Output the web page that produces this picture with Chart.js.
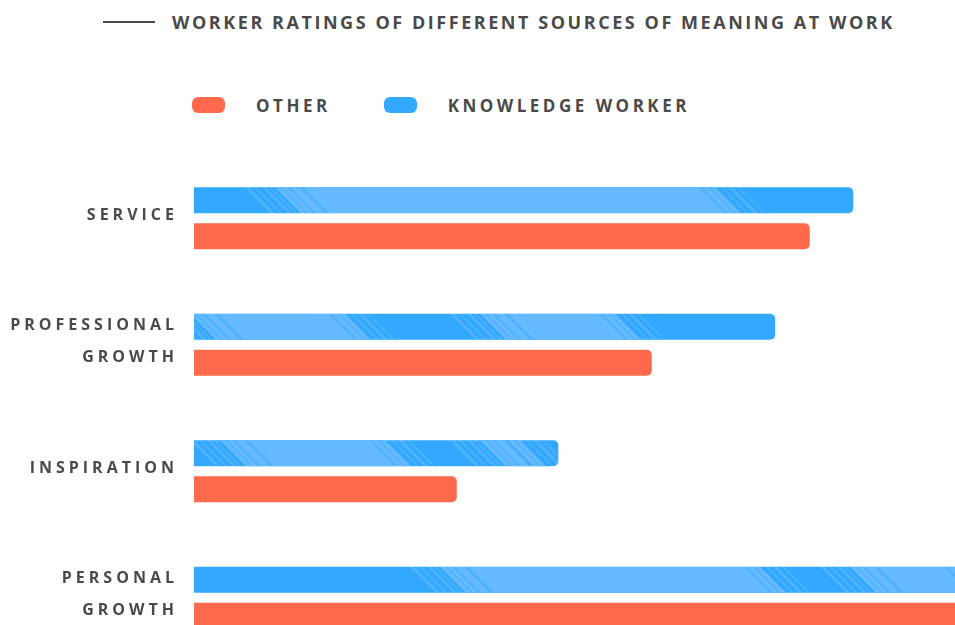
<!DOCTYPE html>
<html>
<head>
<meta charset="utf-8">
<script src="https://cdn.jsdelivr.net/npm/chart.js@4/dist/chart.umd.min.js"></script>
<style>
  html, body { margin: 0; padding: 0; background: #fff; width: 955px; height: 625px; overflow: hidden; }
  body { position: relative; font-family: 'Open Sans', sans-serif; font-weight: 700; color: #4a4a4a; }
  .title { position: absolute; left: 103px; top: 10px; height: 24px; display: flex; align-items: center; }
  .title .rule { width: 52px; height: 2px; background: #4a4a4a; margin-right: 17px; }
  .title span { font-size: 18px; letter-spacing: 2.55px; white-space: nowrap; }
  .legend { position: absolute; left: 192px; top: 93px; height: 24px; display: flex; align-items: center; }
  .legend .item { display: flex; align-items: center; margin-right: 53px; }
  .legend .swatch { width: 33px; height: 16px; border-radius: 6px; margin-right: 31px; }
  .legend span { font-size: 17px; letter-spacing: 3.5px; white-space: nowrap; }
  #wrap { position: absolute; left: 0; top: 155px; width: 1000px; height: 506px; }
</style>
</head>
<body>
<div class="title"><div class="rule"></div><span>WORKER RATINGS OF DIFFERENT SOURCES OF MEANING AT WORK</span></div>
<div class="legend" id="legend"></div>
<div id="wrap"><canvas id="chart"></canvas></div>
<script>
// 数据
const categories = ['SERVICE', ['PROFESSIONAL', 'GROWTH'], 'INSPIRATION', ['PERSONAL', 'GROWTH']]
const knowledgeWorker = [81.8, 72.1, 45.2, 98]
const other = [76.4, 56.8, 32.6, 97]
const seriesNames = ['OTHER', 'KNOWLEDGE WORKER']

const BLUE = '#33a8ff'
const BLUE_LIGHT = '#66baff'
const ORANGE = '#ff6a4c'

// 每根蓝条上的浅色笔刷带（相对条起点的像素偏移，仅为样式）
const brushBands = [
  [[81, 521]],
  [[-4, 151], [286, 421]],
  [[26, 191], [286, 326]],
  [[246, 566], [656, 766]]
]

function slant(ctx, x0, x1, top, h) {
  ctx.beginPath()
  ctx.moveTo(x0, top)
  ctx.lineTo(x1, top)
  ctx.lineTo(x1 + h, top + h)
  ctx.lineTo(x0 + h, top + h)
  ctx.closePath()
  ctx.fill()
}

const brushTexture = {
  id: 'brushTexture',
  afterDatasetDraw(chart, args) {
    if (args.index !== 0) return
    const ctx = chart.ctx
    args.meta.data.forEach((bar, i) => {
      const { x, y, base, height } = bar.getProps(['x', 'y', 'base', 'height'], true)
      const top = y - height / 2
      ctx.save()
      ctx.beginPath()
      ctx.roundRect(base, top, x - base, height, [0, 5, 5, 0])
      ctx.clip()
      ;(brushBands[i] || []).forEach(([a, b]) => {
        const x0 = base + a
        const x1 = base + b
        ctx.fillStyle = BLUE_LIGHT
        slant(ctx, x0, x1, top, height)
        // 边缘的笔刷痕
        ctx.globalAlpha = 0.6
        ;[-6, -13, -21, -30].forEach((d, k) => slant(ctx, x0 + d, x0 + d + 2 + (k % 2) * 2, top, height))
        ;[6, 13, 22].forEach((d, k) => slant(ctx, x1 + d, x1 + d + 2 + (k % 2) * 2, top, height))
        ctx.fillStyle = BLUE
        ctx.globalAlpha = 0.45
        ;[5, 12, 24].forEach((d, k) => slant(ctx, x0 + d, x0 + d + 2 + k, top, height))
        ;[-7, -16].forEach((d, k) => slant(ctx, x1 + d, x1 + d + 2 + k, top, height))
        ctx.globalAlpha = 1
      })
      ctx.restore()
    })
  }
}

const spacing = {
  id: 'letterSpacing',
  beforeLayout(chart) { chart.ctx.letterSpacing = '4px' },
  beforeDraw(chart) { chart.ctx.letterSpacing = '4px' }
}

document.getElementById('legend').innerHTML = `
  <div class="item"><div class="swatch" style="background:${ORANGE}"></div><span>${seriesNames[0]}</span></div>
  <div class="item"><div class="swatch" style="background:${BLUE}"></div><span>${seriesNames[1]}</span></div>
`

new Chart(document.getElementById('chart'), {
  type: 'bar',
  data: {
    labels: categories,
    datasets: [
      { label: seriesNames[1], data: knowledgeWorker, backgroundColor: BLUE },
      { label: seriesNames[0], data: other, backgroundColor: ORANGE }
    ]
  },
  options: {
    indexAxis: 'y',
    responsive: true,
    maintainAspectRatio: false,
    animation: false,
    layout: { padding: 0 },
    datasets: {
      bar: {
        categoryPercentage: 0.57,
        barPercentage: 0.722,
        borderSkipped: 'start',
        borderRadius: { topRight: 5, bottomRight: 5, topLeft: 0, bottomLeft: 0 }
      }
    },
    plugins: { legend: { display: false }, tooltip: { enabled: false } },
    scales: {
      x: { display: false, min: 0, max: 100 },
      y: {
        grid: { display: false, drawTicks: false },
        border: { display: false },
        afterFit(scale) {
          scale.width = 194
          scale.paddingTop = 0
          scale.paddingBottom = 0
        },
        ticks: {
          padding: 16,
          labelOffset: -3,
          color: '#4a4a4a',
          font: { family: 'Open Sans', size: 16, weight: 'bold', lineHeight: 2 }
        }
      }
    }
  },
  plugins: [spacing, brushTexture]
})
</script>
</body>
</html>
